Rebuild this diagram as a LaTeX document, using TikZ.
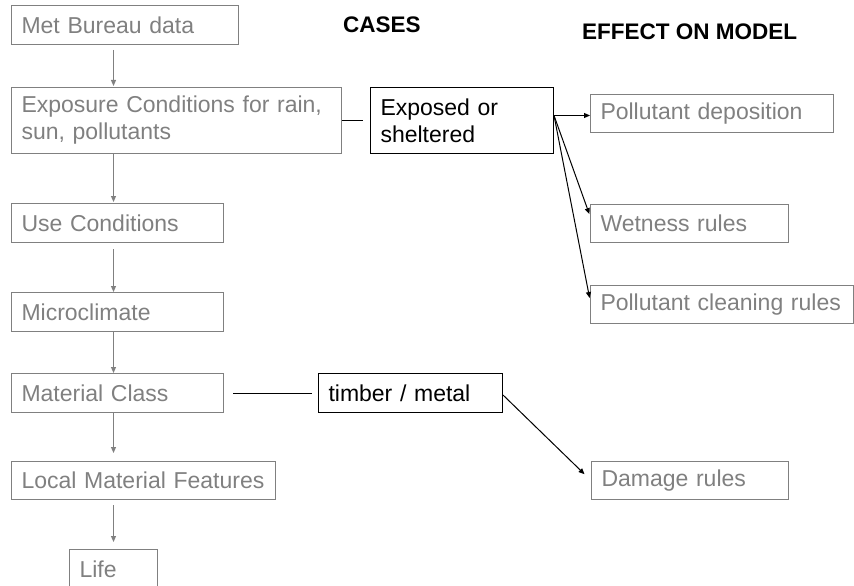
\documentclass[tikz,border=0pt]{standalone}
\usepackage{fontspec}
\setmainfont{Liberation Sans}
\usepackage{xcolor}
\usepackage{tikz}
\usetikzlibrary{positioning}
\usetikzlibrary{arrows.meta}
\pgfdeclarelayer{nodelayer}
\pgfdeclarelayer{edgelayer}
\pgfsetlayers{nodelayer,edgelayer,main}
\definecolor{boxgray}{RGB}{128,128,128}
\tikzset{
    none/.style = {inner sep=0pt},
    graybox/.style = {draw=boxgray, text=boxgray, line width=1pt, anchor=north west,
        inner xsep=10pt, inner ysep=0pt, align=left, text width=#1,
        font=\fontsize{23}{27}\selectfont},
    casebox/.style = {graybox=#1, draw=black, text=black},
    heading/.style = {inner sep=0pt, anchor=base west, font=\fontsize{22.5}{25}\selectfont\bfseries},
    flow/.style = {draw=boxgray, line width=1pt, -{Triangle[length=6pt,width=5pt]}},
    effect/.style = {draw=black, line width=1pt, -{Triangle[length=6pt,width=5pt]}},
    link/.style = {draw=black, line width=1pt}
}

\begin{document}
\begin{tikzpicture}[x=1pt, y=-1pt]
  \useasboundingbox (0,0) rectangle (854,586);
  \clip (0,0) rectangle (854,586);
  \begin{pgfonlayer}{nodelayer}
    % chain on the left
    \node [graybox=207pt, minimum height=39pt] (met) at (11,5) {Met Bureau data};
    \node [graybox=310pt, minimum height=66pt] (expo) at (11,87) {Exposure Conditions for rain,\\sun, pollutants};
    \node [graybox=192pt, minimum height=39pt] (use) at (11,203) {Use Conditions};
    \node [graybox=192pt, minimum height=39pt] (micro) at (11,292) {Microclimate};
    \node [graybox=192pt, minimum height=39pt] (mat) at (11,373) {Material Class};
    \node [graybox=244pt, minimum height=38pt] (local) at (11,461) {Local Material Features};
    \node [graybox=68pt, minimum height=39pt] (life) at (69,549) {Life};
    % cases
    \node [heading] (cases) at (343,33) {CASES};
    \node [casebox=163pt, minimum height=66pt] (exposed) at (370,87) {Exposed or\\sheltered};
    \node [casebox=164pt, minimum height=39pt] (timber) at (318,373) {timber / metal};
    % effect on model
    \node [heading] (effect) at (582,40) {EFFECT ON MODEL};
    \node [graybox=223pt, minimum height=38pt] (poldep) at (590,94) {Pollutant deposition};
    \node [graybox=178pt, minimum height=38pt] (wet) at (590,204) {Wetness rules};
    \node [graybox=243pt, minimum height=38pt] (clean) at (590,285) {Pollutant cleaning rules};
    \node [graybox=177pt, minimum height=38pt] (damage) at (591,461) {Damage rules};
  \end{pgfonlayer}
  \begin{pgfonlayer}{edgelayer}
    \draw [flow, shorten <=5pt, shorten >=1pt] (met.south -| life) to (expo.north -| life);
    \draw [flow, shorten >=1pt] (expo.south -| life) to (use.north -| life);
    \draw [flow, shorten <=6pt] (use.south -| life) to (micro.north -| life);
    \draw [flow] (micro.south -| life) to (mat.north -| life);
    \draw [flow, shorten >=8pt] (mat.south -| life) to (local.north -| life);
    \draw [flow, shorten <=5pt, shorten >=7pt] (local.south -| life) to (life.north);
    \draw [link, shorten >=7pt] (expo.east) to (exposed.west);
    \draw [link, shorten <=9pt, shorten >=6pt] (mat.east) to (timber.west);
    \draw [effect] ([yshift=5pt]exposed.east) to ([yshift=-2pt]poldep.west);
    \draw [effect, shorten >=2pt] ([yshift=5pt]exposed.east) to ([yshift=-12pt]wet.north west);
    \draw [effect, shorten >=2pt] ([yshift=5pt]exposed.east) to ([yshift=-15pt]clean.north west);
    \draw [effect, shorten >=9pt] ([yshift=-2pt]timber.east) to (damage.west);
  \end{pgfonlayer}
\end{tikzpicture}
\end{document}
